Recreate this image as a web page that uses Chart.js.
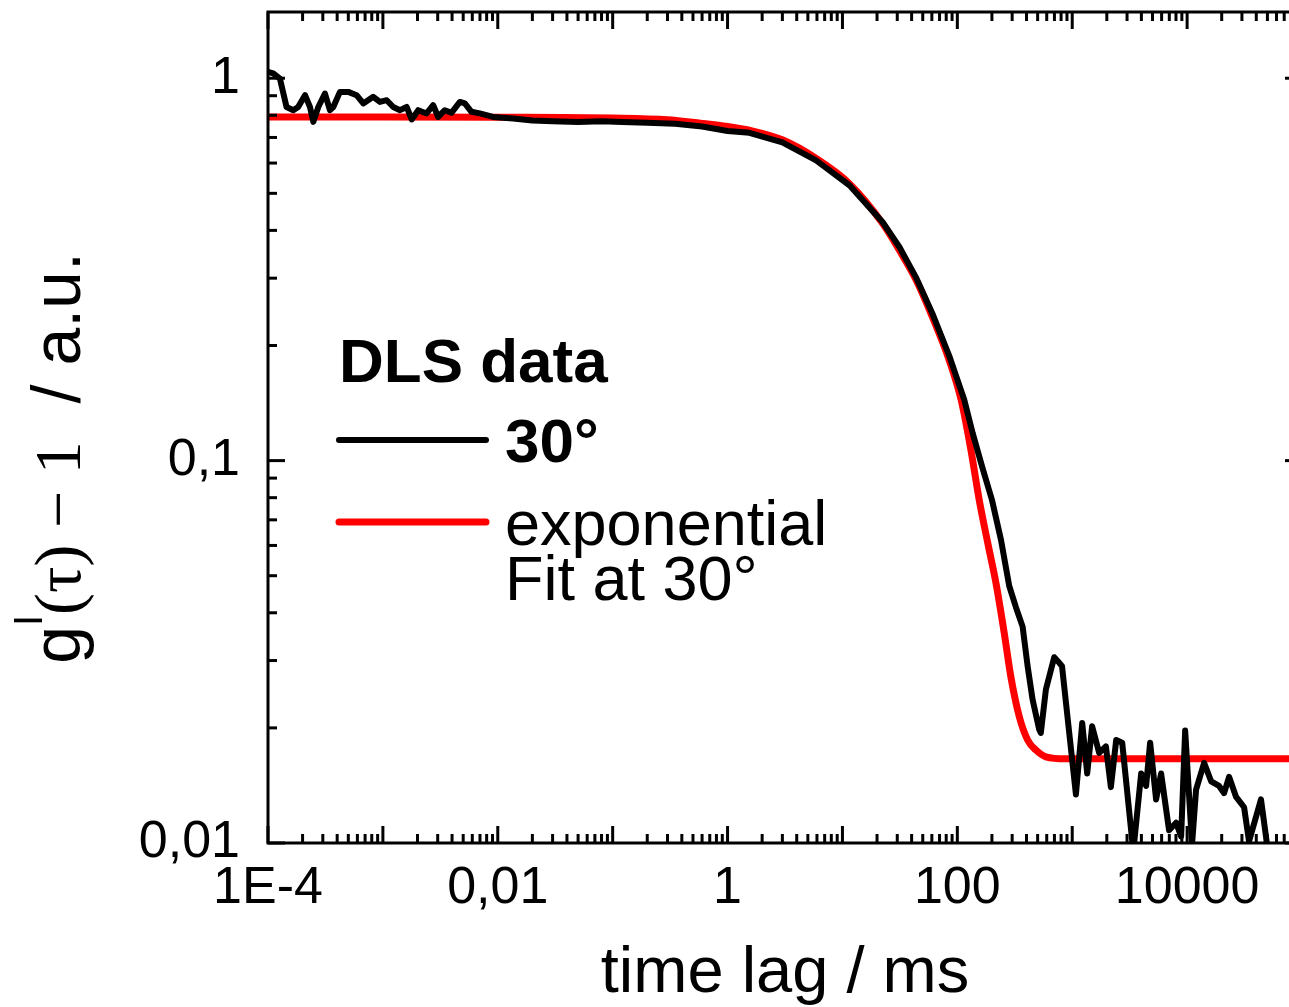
<!DOCTYPE html>
<html>
<head>
<meta charset="utf-8">
<script src="https://cdn.jsdelivr.net/npm/chart.js@4.4.1/dist/chart.umd.min.js"></script>
<style>
  html, body { margin: 0; padding: 0; background: #fff; overflow: hidden; }
  #wrap { position: absolute; left: 0; top: 0; width: 1310px; height: 1007px; }
</style>
</head>
<body>
<div id="wrap"><canvas id="myChart"></canvas></div>
<script>
// Messdaten (DLS, 30°) – time lag in ms, g1(tau)-1 in a.u.
const timeLag = [
  1.0e-4, 1.11e-4, 1.27e-4, 1.45e-4, 1.66e-4, 1.83e-4, 2.1e-4, 2.32e-4, 2.48e-4, 2.74e-4,
  3.13e-4, 3.46e-4, 3.7e-4, 4.23e-4, 4.99e-4, 5.9e-4, 6.75e-4, 8.24e-4, 9.42e-4, 1.08e-3,
  1.23e-3, 1.41e-3, 1.61e-3, 1.78e-3, 2.03e-3, 2.4e-3, 2.74e-3, 3.03e-3, 3.46e-3, 3.95e-3,
  4.68e-3, 5.17e-3, 5.9e-3, 6.97e-3, 9.1e-3, 0.0136, 0.02, 0.03, 0.05, 0.08,
  0.12, 0.2, 0.35, 0.6, 1.0, 1.55, 3.0, 5.9, 11.5, 22.4,
  31.3, 44, 60.5, 85, 115, 136, 165, 200, 240, 283,
  324, 370, 409, 452, 516, 533, 590, 697, 771, 815,
  942, 1077, 1222, 1350, 1490, 1717, 1964, 2170, 2415, 2722,
  3400, 3981, 4397, 4766, 5370, 5938, 6966, 8017, 8872, 9616,
  11040, 11970, 14060, 16180, 18970, 20990, 23190, 26690, 31330, 34590,
  43970, 49660, 63100, 100000
];
const dlsData = [
  1.039, 1.03, 0.998, 0.841, 0.825, 0.841, 0.903, 0.841, 0.769, 0.841,
  0.912, 0.825, 0.841, 0.921, 0.921, 0.903, 0.859, 0.894, 0.867, 0.876,
  0.841, 0.825, 0.841, 0.78, 0.825, 0.809, 0.85, 0.792, 0.825, 0.812,
  0.867, 0.859, 0.817, 0.809, 0.792, 0.785, 0.775, 0.772, 0.768, 0.772,
  0.768, 0.765, 0.76, 0.748, 0.728, 0.72, 0.68, 0.61, 0.525, 0.42,
  0.362, 0.30, 0.243, 0.188, 0.144, 0.118, 0.096, 0.079, 0.062, 0.047,
  0.0413, 0.0368, 0.029, 0.0237, 0.0198, 0.0194, 0.0252, 0.0306, 0.0296, 0.029,
  0.0194, 0.0134, 0.0206, 0.0152, 0.0202, 0.0172, 0.0179, 0.014, 0.0186, 0.0183,
  0.0095, 0.0152, 0.0141, 0.0183, 0.013, 0.0152, 0.0108, 0.0113, 0.0104, 0.0197,
  0.0099, 0.0138, 0.0162, 0.0145, 0.0141, 0.0135, 0.0149, 0.0132, 0.0124, 0.0101,
  0.013, 0.0099, 0.008, 0.008
];

// Exponentieller Fit
const fitTime = [
  1e-4, 1e-3, 0.01, 0.1, 0.3, 0.58, 1.0, 1.55, 3.03, 5.9,
  11.5, 22.4, 31.3, 44, 60.5, 85, 108, 131, 155, 184,
  217, 256, 293, 346, 409, 483, 590, 881, 2000, 10000, 100000
];
const fitValues = [
  0.792, 0.792, 0.791, 0.787, 0.779, 0.763, 0.748, 0.731, 0.689, 0.617,
  0.530, 0.417, 0.355, 0.296, 0.238, 0.183, 0.144, 0.107, 0.079, 0.0609,
  0.0478, 0.0354, 0.0271, 0.0214, 0.0186, 0.0175, 0.0168, 0.0166, 0.0166, 0.0166, 0.0166
];

// Achsenbeschriftungen
const xTickValues = [1e-4, 1e-2, 1, 100, 10000];
const xTickLabels = ["1E-4", "0,01", "1", "100", "10000"];
const yTickValues = [0.01, 0.1, 1];
const yTickLabels = ["0,01", "0,1", "1"];

const legendTitle = "DLS data";
const seriesLabels = [["30°"], ["exponential", "Fit at 30°"]];

const SANS = '"Liberation Sans", Arial, sans-serif';
const SERIF = '"Liberation Serif", "Times New Roman", serif';

function toPoints(xs, ys) {
  return xs.map((v, i) => ({ x: v, y: ys[i] }));
}

// Rahmen, Ticks (nach innen), Legende und y-Titel
const rahmenPlugin = {
  id: "rahmen",
  afterDatasetsDraw(chart) {
    const { ctx, chartArea: a, scales } = chart;
    const x = scales.x, y = scales.y;
    ctx.save();
    ctx.strokeStyle = "#000";
    ctx.lineWidth = 3;
    ctx.strokeRect(a.left, a.top, a.right - a.left, a.bottom - a.top);

    function seg(x1, y1, x2, y2) {
      ctx.beginPath();
      ctx.moveTo(x1, y1);
      ctx.lineTo(x2, y2);
      ctx.stroke();
    }
    for (let e = -4; e <= 5; e++) {
      for (let m = 1; m <= 9; m++) {
        const v = m * Math.pow(10, e);
        if (v < x.min * 0.999 || v > x.max * 1.001) continue;
        const px = x.getPixelForValue(v);
        const len = m === 1 ? 17 : 9;
        seg(px, a.bottom, px, a.bottom - len);
        seg(px, a.top, px, a.top + len);
      }
    }
    for (let e = -2; e <= 0; e++) {
      for (let m = 1; m <= 9; m++) {
        const v = m * Math.pow(10, e);
        if (v < y.min * 0.999 || v > y.max * 1.001) continue;
        const py = y.getPixelForValue(v);
        const len = m === 1 ? 17 : 9;
        seg(a.left, py, a.left + len, py);
        seg(a.right, py, a.right - len, py);
      }
    }

    // Legende
    ctx.fillStyle = "#000";
    ctx.textBaseline = "alphabetic";
    ctx.textAlign = "left";
    ctx.font = "bold 62px " + SANS;
    ctx.fillText(legendTitle, 339, 382);
    const rows = [
      { lineY: 440, textY: [462], bold: true },
      { lineY: 522, textY: [545, 600], bold: false }
    ];
    chart.data.datasets.forEach((ds, i) => {
      const r = rows[i];
      ctx.strokeStyle = ds.borderColor;
      ctx.lineWidth = ds.borderWidth;
      ctx.lineCap = "round";
      seg(339, r.lineY, 486, r.lineY);
      ctx.font = (r.bold ? "bold 62px " : "63px ") + SANS;
      seriesLabels[i].forEach((t, k) => ctx.fillText(t, 505, r.textY[k]));
    });

    // y-Achsentitel: g^I(τ) − 1  / a.u.
    const parts = [
      { t: "g", f: "68px " + SANS, dy: 0 },
      { t: "I", f: "40px " + SANS, dy: -38 },
      { t: "(τ) − 1", f: "66px " + SERIF, dy: 0 },
      { t: "  / a.u.", f: "68px " + SANS, dy: 0 }
    ];
    let total = 0;
    parts.forEach(p => { ctx.font = p.f; p.w = ctx.measureText(p.t).width; total += p.w; });
    ctx.translate(80, 458);
    ctx.rotate(-Math.PI / 2);
    let cx = -total / 2;
    parts.forEach(p => {
      ctx.font = p.f;
      ctx.fillText(p.t, cx, p.dy);
      cx += p.w;
    });
    ctx.restore();
  }
};

const ctx = document.getElementById("myChart").getContext("2d");
const chart = new Chart(ctx, {
  type: "line",
  data: {
    datasets: [
      {
        label: "30°",
        data: toPoints(timeLag, dlsData),
        borderColor: "#000000",
        borderWidth: 6,
        pointRadius: 0,
        tension: 0,
        borderJoinStyle: "round",
        borderCapStyle: "round"
      },
      {
        label: "exponential Fit at 30°",
        data: toPoints(fitTime, fitValues),
        borderColor: "#ff0000",
        borderWidth: 7,
        pointRadius: 0,
        cubicInterpolationMode: "monotone",
        borderJoinStyle: "round"
      }
    ]
  },
  options: {
    responsive: true,
    maintainAspectRatio: false,
    animation: false,
    layout: { padding: { top: 12, right: 8, left: 0, bottom: 0 } },
    plugins: { legend: { display: false }, tooltip: { enabled: false } },
    scales: {
      x: {
        type: "logarithmic",
        min: 1e-4,
        max: 1e5,
        grid: { display: false, drawTicks: false },
        border: { display: false },
        afterBuildTicks: (s) => { s.ticks = xTickValues.map(v => ({ value: v })); },
        afterFit: (s) => { s.height = 164; s.paddingLeft = 0; s.paddingRight = 0; },
        ticks: {
          autoSkip: false,
          maxRotation: 0,
          padding: 14,
          color: "#000",
          font: { family: SANS, size: 52 },
          callback: (v) => {
            const i = xTickValues.findIndex(t => Math.abs(t - v) / t < 1e-6);
            return i >= 0 ? xTickLabels[i] : "";
          }
        },
        title: {
          display: true,
          text: "time lag / ms",
          color: "#000",
          font: { family: SANS, size: 65 },
          padding: { top: 0, bottom: -6 }
        }
      },
      y: {
        type: "logarithmic",
        min: 0.01,
        max: 1.49,
        grid: { display: false, drawTicks: false },
        border: { display: false },
        afterBuildTicks: (s) => { s.ticks = yTickValues.map(v => ({ value: v })); },
        afterFit: (s) => { s.width = 268; s.paddingTop = 0; s.paddingBottom = 0; },
        ticks: {
          autoSkip: false,
          padding: 28,
          color: "#000",
          font: { family: SANS, size: 52 },
          callback: (v) => {
            const i = yTickValues.findIndex(t => Math.abs(t - v) / t < 1e-6);
            return i >= 0 ? yTickLabels[i] : "";
          }
        }
      }
    }
  },
  plugins: [rahmenPlugin]
});
</script>
</body>
</html>
